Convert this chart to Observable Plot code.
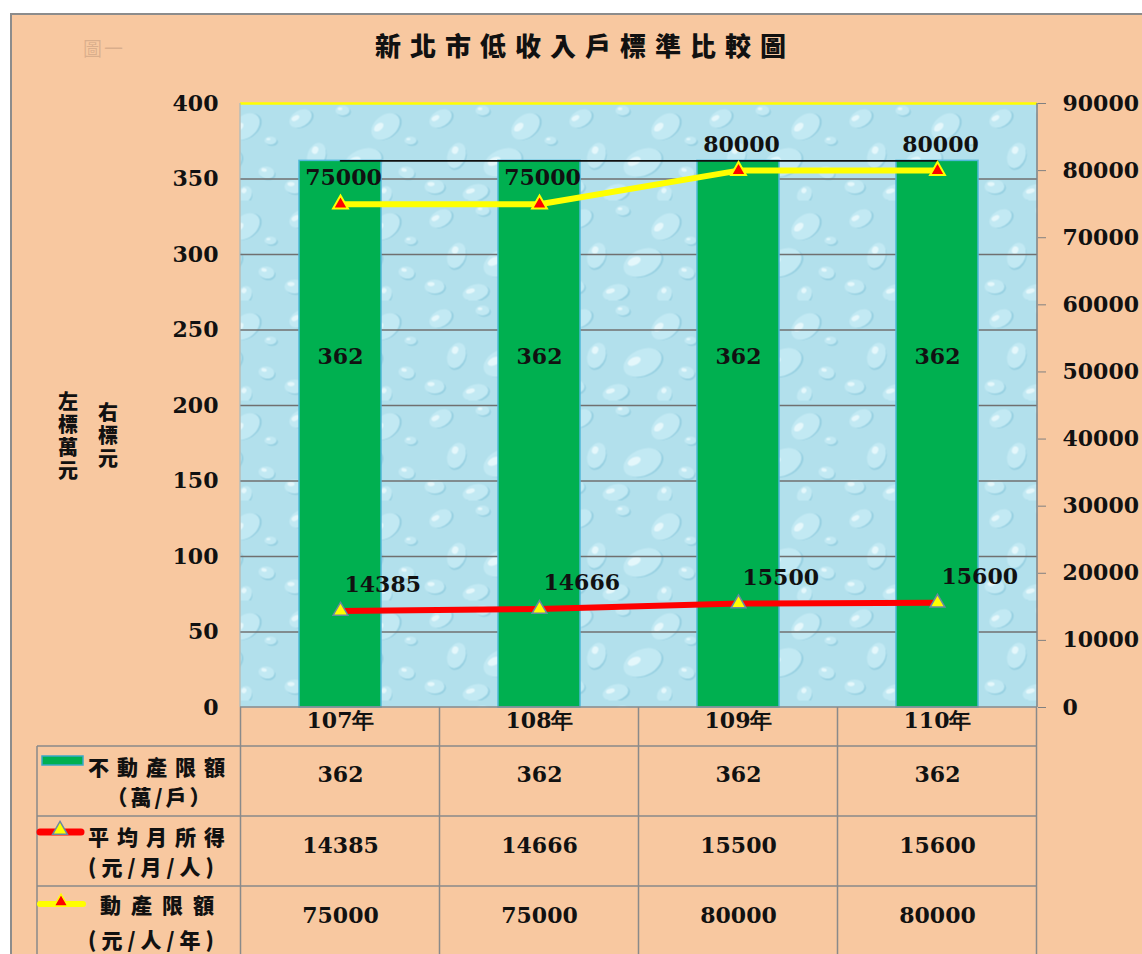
<!DOCTYPE html>
<html>
<head>
<meta charset="utf-8">
<script src="https://cdn.jsdelivr.net/npm/d3@7"></script>
<script src="https://cdn.jsdelivr.net/npm/@observablehq/plot@0.6"></script>
<style>
  body { margin: 0; background: #fff; }
  #page { position: relative; width: 1142px; height: 954px; overflow: hidden; background: #fff; }
  #panel { position: absolute; left: 10px; top: 13px; right: 0; bottom: 0; background: #F8C8A0;
           border-left: 2px solid #8c8c8c; border-top: 2px solid #8c8c8c; }
  #chart { position: absolute; left: 0; top: 0; }
  #title { position: absolute; top: 26px; left: 24px; width: 1122px; text-align: center;
           font: 900 26px 'Noto Sans CJK TC', sans-serif; letter-spacing: 9px; color: #111; }
  #fig { position: absolute; top: 34px; left: 83px; font: 400 19px 'Noto Sans CJK TC', sans-serif;
         color: rgba(140,110,90,0.28); letter-spacing: 2px; }
</style>
</head>
<body>
<div id="page">
  <div id="panel"></div>
  <div id="fig"></div>
  <div id="title"></div>
  <div id="chart"></div>
</div>
<script>
// ---- data ----
const title = "新北市低收入戶標準比較圖";
const figLabel = "圖一";
const years = ["107年", "108年", "109年", "110年"];
const realEstate = [362, 362, 362, 362];          // 不動產限額 (萬/戶), left axis
const income = [14385, 14666, 15500, 15600];        // 平均月所得 (元/月/人), right axis
const movable = [75000, 75000, 80000, 80000];       // 動產限額 (元/人/年), right axis
const leftTicks = [0, 50, 100, 150, 200, 250, 300, 350, 400];
const rightTicks = [0, 10000, 20000, 30000, 40000, 50000, 60000, 70000, 80000, 90000];
const seriesNames = ["不動產限額", "平均月所得", "動產限額"];
const seriesUnits = ["（萬/戶）", "(元/月/人)", "(元/人/年)"];
const leftTitle = "左標萬元";
const rightTitle = "右標元";

const k = 400 / 90000; // right-axis value -> left-axis units
const data = years.map((y, i) => ({ year: y, re: realEstate[i], inc: income[i], mov: movable[i] }));

document.getElementById("title").textContent = title;
document.getElementById("fig").textContent = figLabel;

const W = 1142, H = 954, mT = 103, mB = 247, mL = 240, mR = 105;
const serif = "'DejaVu Serif', 'Liberation Serif', serif";
const cjk = "'Noto Sans CJK TC', sans-serif";

const plot = Plot.plot({
  width: W, height: H,
  marginTop: mT, marginBottom: mB, marginLeft: mL, marginRight: mR,
  style: { background: "transparent", fontFamily: serif, fontSize: "22px", fontWeight: "bold", color: "#111", overflow: "visible" },
  x: { domain: years, paddingInner: 0.59, paddingOuter: 0.295, axis: null },
  y: { domain: [0, 400], axis: null },
  marks: [
    Plot.frame({ fill: "url(#drops)", stroke: null }),
    Plot.gridY(leftTicks.slice(1, -1), { stroke: "#707070", strokeOpacity: 1, strokeWidth: 1.3 }),
    Plot.ruleY([400], { stroke: "#FFFF00", strokeWidth: 2.5 }),
    Plot.barY(data, { x: "year", y: "re", fill: "#00B050", stroke: "#4FB8D8", strokeWidth: 1.5 }),
    Plot.line(data, { x: "year", y: "re", stroke: "#111", strokeWidth: 1.6 }),
    Plot.text(data, { x: "year", y: "re", text: d => String(d.re), dy: 196 }),
    Plot.line(data, { x: "year", y: d => d.inc * k, stroke: "#FF0000", strokeWidth: 6 }),
    Plot.line(data, { x: "year", y: d => d.mov * k, stroke: "#FFFF00", strokeWidth: 6 }),
    Plot.dot(data, { x: "year", y: d => d.inc * k, symbol: "triangle", r: 5.5, fill: "#FFFF00", stroke: "#6a8aa0", strokeWidth: 1.5 }),
    Plot.dot(data, { x: "year", y: d => d.mov * k, symbol: "triangle", r: 5.5, fill: "#FF0000", stroke: "#FFFF00", strokeWidth: 2 }),
    Plot.text(data, { x: "year", y: d => d.mov * k, text: d => String(d.mov), dy: -26, dx: 3 }),
    Plot.text(data, { x: "year", y: d => d.inc * k, text: d => String(d.inc), textAnchor: "start", dx: 4, dy: -26 }),
    Plot.axisY({ anchor: "left", ticks: leftTicks, tickSize: 0, tickPadding: 22, label: null }),
    Plot.axisY({ anchor: "right", ticks: rightTicks.map(t => t * k), tickFormat: v => String(Math.round(v / k)),
                 tickSize: 8, tickPadding: 17, stroke: "#808080", label: null }),
    // data table
    Plot.text(years, { x: d => d, frameAnchor: "bottom", dy: 20 }),
    Plot.text(data, { x: "year", text: d => String(d.re), frameAnchor: "bottom", dy: 74 }),
    Plot.text(data, { x: "year", text: d => String(d.inc), frameAnchor: "bottom", dy: 145 }),
    Plot.text(data, { x: "year", text: d => String(d.mov), frameAnchor: "bottom", dy: 215 })
  ]
});

const svg = d3.select(plot);
// water-drop texture for plot background
const defs = svg.insert("defs", ":first-child");
const pat = defs.append("pattern").attr("id", "drops").attr("patternUnits", "userSpaceOnUse")
  .attr("width", 140).attr("height", 100);
pat.append("rect").attr("width", 140).attr("height", 100).attr("fill", "#B2E0EC");
const drops = [[20,18,12,8,-30],[62,10,7,5,0],[105,26,16,11,-40],[36,55,9,13,20],[82,62,20,13,-25],
               [126,72,8,6,10],[14,86,10,7,0],[55,92,13,8,-15],[104,94,7,9,30],[130,40,6,4,0]];
drops.forEach(([cx, cy, rx, ry, rot]) => {
  const g = pat.append("g").attr("transform", `translate(${cx},${cy}) rotate(${rot})`);
  g.append("ellipse").attr("cx", 1.5).attr("cy", 1.5).attr("rx", rx).attr("ry", ry).attr("fill", "#8CCADD").attr("opacity", 0.7);
  g.append("ellipse").attr("rx", rx).attr("ry", ry).attr("fill", "#C2E9F3");
  g.append("ellipse").attr("cx", -rx * 0.35).attr("cy", -ry * 0.35).attr("rx", rx * 0.35).attr("ry", ry * 0.3).attr("fill", "#E4F7FB");
});

const xs = plot.scale("x");
const centers = years.map(y => xs.apply(y) + xs.bandwidth / 2);
const step = centers[1] - centers[0];
const bounds = [centers[0] - step / 2, ...centers.map(c => c + step / 2)];
const fr = { top: mT, bottom: H - mB, left: mL, right: W - mR };
const rowLines = [fr.bottom + 39, fr.bottom + 109, fr.bottom + 179];
const tableLeft = 37;

const g = svg.append("g").attr("stroke", "#8a8a8a").attr("stroke-width", 1.5);
g.append("line").attr("x1", fr.right).attr("x2", fr.right).attr("y1", fr.top).attr("y2", fr.bottom).attr("stroke", "#808080");
g.append("line").attr("x1", fr.left).attr("x2", fr.left).attr("y1", fr.top).attr("y2", fr.bottom).attr("stroke", "#9ab8c4").attr("stroke-width", 1);
g.append("line").attr("x1", fr.left).attr("x2", fr.right).attr("y1", fr.bottom).attr("y2", fr.bottom);
bounds.forEach(b => g.append("line").attr("x1", b).attr("x2", b).attr("y1", fr.bottom).attr("y2", H));
rowLines.forEach(y => g.append("line").attr("x1", tableLeft).attr("x2", fr.right).attr("y1", y).attr("y2", y));
g.append("line").attr("x1", tableLeft).attr("x2", tableLeft).attr("y1", rowLines[0]).attr("y2", H);

// table row headers with legend keys
const lg = svg.append("g").attr("font-family", cjk).attr("font-weight", 900).attr("font-size", 21)
  .attr("fill", "#111").attr("text-anchor", "start");
const rowTop = rowLines;
// row 1: bars
lg.append("rect").attr("x", 42).attr("y", rowTop[0] + 10).attr("width", 41).attr("height", 9)
  .attr("fill", "#00B050").attr("stroke", "#3aa8c8").attr("stroke-width", 1.5);
// row 2: red line + yellow triangle
lg.append("line").attr("x1", 40).attr("x2", 81).attr("y1", rowTop[1] + 16).attr("y2", rowTop[1] + 16)
  .attr("stroke", "#FF0000").attr("stroke-width", 7).attr("stroke-linecap", "round");
lg.append("path").attr("d", d3.symbol(d3.symbolTriangle, 95)()).attr("transform", `translate(60,${rowTop[1] + 14})`)
  .attr("fill", "#FFFF00").attr("stroke", "#6a8aa0").attr("stroke-width", 1.5);
// row 3: yellow line + red triangle
lg.append("line").attr("x1", 40).attr("x2", 83).attr("y1", rowTop[2] + 18).attr("y2", rowTop[2] + 18)
  .attr("stroke", "#FFFF00").attr("stroke-width", 6).attr("stroke-linecap", "round");
lg.append("path").attr("d", d3.symbol(d3.symbolTriangle, 80)()).attr("transform", `translate(61,${rowTop[2] + 16})`)
  .attr("fill", "#FF0000").attr("stroke", "#FFFF00").attr("stroke-width", 1.5);

const nameX = [88, 88, 100];
const nameDy = [22, 22, 20];
const unitX = [160, 88, 88];
seriesNames.forEach((n, i) => {
  lg.append("text").attr("x", nameX[i]).attr("y", rowTop[i] + nameDy[i]).attr("dy", "0.35em")
    .attr("letter-spacing", i === 2 ? 10 : 8).text(n);
  const t = lg.append("text").attr("x", unitX[i]).attr("y", rowTop[i] + 52 + (i === 2 ? 3 : 0)).attr("dy", "0.35em")
    .attr("letter-spacing", i === 0 ? 3 : 5).text(seriesUnits[i]);
  if (i === 0) t.attr("text-anchor", "middle");
});

// vertical axis titles
const at = svg.append("g").attr("font-family", cjk).attr("font-weight", 900).attr("font-size", 20)
  .attr("fill", "#111").attr("text-anchor", "middle");
at.append("text").attr("x", 68).attr("y", 437).style("writing-mode", "vertical-rl")
  .attr("letter-spacing", 3).text(leftTitle);
at.append("text").attr("x", 108).attr("y", 437).style("writing-mode", "vertical-rl")
  .attr("letter-spacing", 3).text(rightTitle);

document.getElementById("chart").appendChild(plot);
</script>
</body>
</html>
